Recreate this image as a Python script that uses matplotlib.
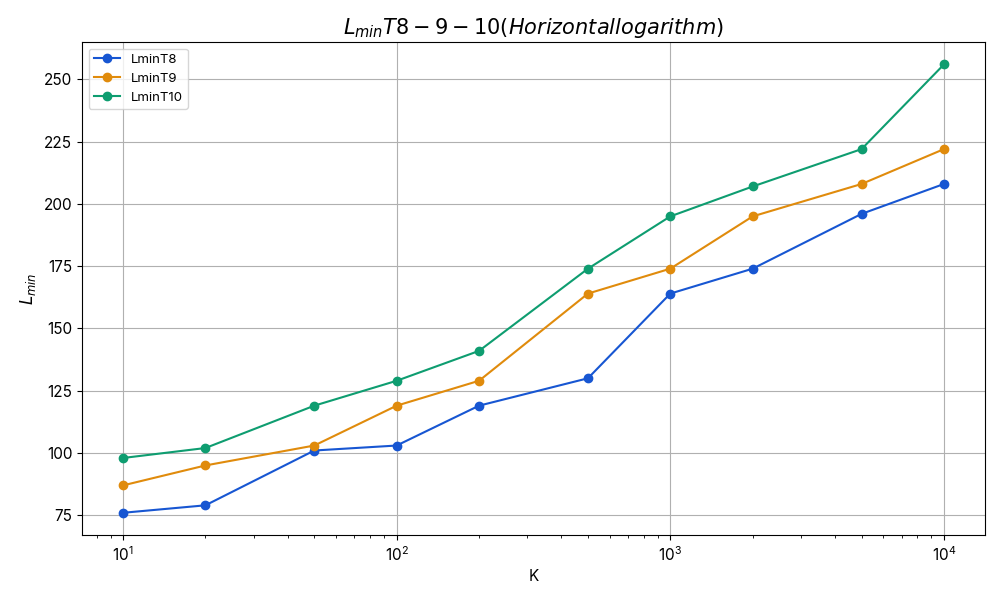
import matplotlib
matplotlib.use("Agg")
import matplotlib.pyplot as plt

# Datos del gráfico
k_values = [10, 20, 50, 100, 200, 500, 1000, 2000, 5000, 10000]
lmin_t8 = [76, 79, 101, 103, 119, 130, 164, 174, 196, 208]
lmin_t9 = [87, 95, 103, 119, 129, 164, 174, 195, 208, 222]
lmin_t10 = [98, 102, 119, 129, 141, 174, 195, 207, 222, 256]
series_labels = ["LminT8", "LminT9", "LminT10"]

plt.rcParams['font.family'] = ['Inter', 'DejaVu Sans']

fig, ax = plt.subplots(figsize=(10, 6), dpi=100)

colors = ["#1756d2", "#e08b0c", "#0e9d70"]
for values, label, color in zip([lmin_t8, lmin_t9, lmin_t10], series_labels, colors):
    ax.plot(k_values, values, marker='o', color=color, label=label)

ax.set_xscale('log')
ax.set_xlabel("K", fontsize=11)
ax.set_ylabel(r"$L_{min}$", fontsize=12)
ax.set_title(r"$L_{min} T8-9-10 (Horizontal logarithm)$", fontsize=15)
ax.tick_params(labelsize=11)
ax.grid(True)
ax.legend(loc='upper left', fontsize=9.5)

plt.subplots_adjust(left=0.082, right=0.985, top=0.93, bottom=0.108)
plt.savefig("out.png", dpi=100)
plt.close()
